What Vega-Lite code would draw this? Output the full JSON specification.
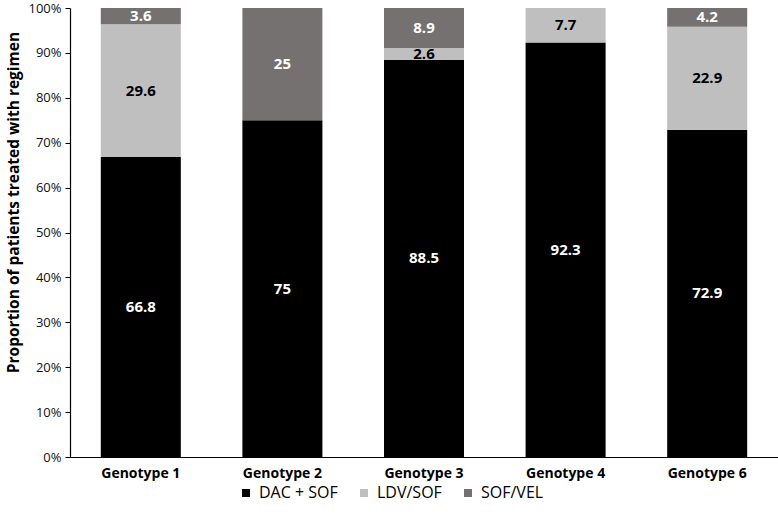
{
  "$schema": "https://vega.github.io/schema/vega-lite/v6.json",
  "width": 708,
  "height": 449,
  "autosize": {"type": "none"},
  "padding": {"left": 70, "top": 8, "right": 0, "bottom": 63},
  "config": {
    "font": "Open Sans",
    "view": {"stroke": null},
    "axis": {"grid": false}
  },
  "data": {
    "values": [
      {"genotype": "Genotype 1", "regimen": "DAC + SOF", "pct": 66.8},
      {"genotype": "Genotype 1", "regimen": "LDV/SOF", "pct": 29.6},
      {"genotype": "Genotype 1", "regimen": "SOF/VEL", "pct": 3.6},
      {"genotype": "Genotype 2", "regimen": "DAC + SOF", "pct": 75},
      {"genotype": "Genotype 2", "regimen": "SOF/VEL", "pct": 25},
      {"genotype": "Genotype 3", "regimen": "DAC + SOF", "pct": 88.5},
      {"genotype": "Genotype 3", "regimen": "LDV/SOF", "pct": 2.6},
      {"genotype": "Genotype 3", "regimen": "SOF/VEL", "pct": 8.9},
      {"genotype": "Genotype 4", "regimen": "DAC + SOF", "pct": 92.3},
      {"genotype": "Genotype 4", "regimen": "LDV/SOF", "pct": 7.7},
      {"genotype": "Genotype 6", "regimen": "DAC + SOF", "pct": 72.9},
      {"genotype": "Genotype 6", "regimen": "LDV/SOF", "pct": 22.9},
      {"genotype": "Genotype 6", "regimen": "SOF/VEL", "pct": 4.2}
    ]
  },
  "transform": [
    {"stack": "pct", "groupby": ["genotype"], "sort": [{"field": "regimen", "order": "ascending"}], "as": ["y0", "y1"]},
    {"calculate": "(datum.y0 + datum.y1) / 2", "as": "ymid"}
  ],
  "encoding": {
    "x": {
      "field": "genotype",
      "type": "nominal",
      "scale": {"paddingInner": 0.435, "paddingOuter": 0.2175},
      "axis": {
        "title": null,
        "labelAngle": 0,
        "labelFontSize": 14,
        "labelFontWeight": "bold",
        "labelColor": "#000",
        "labelPadding": 9,
        "ticks": false,
        "domainColor": "#000",
        "domainWidth": 1.2
      }
    }
  },
  "layer": [
    {
      "mark": {"type": "bar", "stroke": null},
      "encoding": {
        "y": {
          "field": "y0",
          "type": "quantitative",
          "scale": {"domain": [0, 100], "nice": false},
          "axis": {
            "title": "Proportion of patients treated with regimen",
            "titleFontSize": 15.5,
            "titleFontWeight": "bold",
            "titleColor": "#000",
            "titlePadding": 6,
            "titleY": 194,
            "values": [0, 10, 20, 30, 40, 50, 60, 70, 80, 90, 100],
            "labelExpr": "datum.value + '%'",
            "labelFontSize": 13,
            "labelColor": "#111",
            "labelPadding": 4,
            "tickSize": 5,
            "tickColor": "#000",
            "domainColor": "#000",
            "domainWidth": 1.2
          }
        },
        "y2": {"field": "y1"},
        "color": {
          "field": "regimen",
          "type": "nominal",
          "scale": {"domain": ["DAC + SOF", "LDV/SOF", "SOF/VEL"], "range": ["#000000", "#bfbfbf", "#767171"]},
          "legend": {
            "title": null,
            "orient": "none",
            "legendX": 168,
            "legendY": 477,
            "direction": "horizontal",
            "symbolType": "square",
            "symbolSize": 64,
            "symbolStrokeWidth": 0,
            "labelFontSize": 16,
            "labelColor": "#000",
            "labelOffset": 5,
            "columnPadding": 18
          }
        }
      }
    },
    {
      "mark": {"type": "text", "fontSize": 15, "fontWeight": "bold", "baseline": "middle"},
      "encoding": {
        "y": {"field": "ymid", "type": "quantitative"},
        "text": {"field": "pct", "type": "quantitative"},
        "color": {
          "condition": {"test": "datum.regimen === 'LDV/SOF'", "value": "#000"},
          "value": "#fff"
        }
      }
    }
  ]
}
